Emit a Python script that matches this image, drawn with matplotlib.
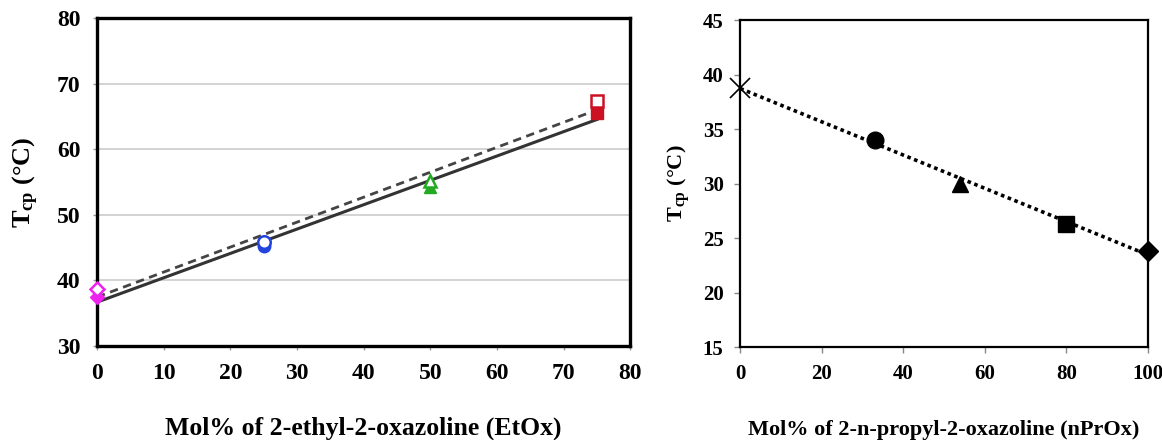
import numpy as np
import matplotlib.pyplot as plt

plt.rcParams["font.family"] = ["Liberation Serif", "DejaVu Serif"]
plt.rcParams["font.weight"] = "bold"
plt.rcParams["mathtext.fontset"] = "custom"
plt.rcParams["mathtext.rm"] = "Liberation Serif:bold"
plt.rcParams["mathtext.it"] = "Liberation Serif:bold"
plt.rcParams["mathtext.bf"] = "Liberation Serif:bold"

# left panel: EtOx copolymers (open = heating, filled = cooling)
etox_x = [0, 25, 50, 75]
etox_open = [38.7, 45.8, 55.2, 67.3]
etox_filled = [37.5, 45.3, 54.2, 65.5]
etox_colors = ["#ee22ee", "#2244dd", "#22aa22", "#cc1122"]
etox_markers = ["D", "o", "^", "s"]

# right panel: nPrOx copolymers
nprox_x = [0, 33, 54, 80, 100]
nprox_y = [38.8, 34.0, 30.0, 26.3, 23.8]
nprox_markers = ["x", "o", "^", "s", "D"]

fig = plt.figure(figsize=(11.62, 4.4), dpi=100)
ax1 = fig.add_axes([0.0835, 0.2136, 0.459, 0.745])
ax2 = fig.add_axes([0.637, 0.211, 0.351, 0.743])

# --- left
for y in [40, 50, 60, 70]:
    ax1.axhline(y, color="#cccccc", lw=1.2, zorder=0)
xx = np.array([0, 75])
p_f = np.polyfit(etox_x, etox_filled, 1)
p_o = np.polyfit(etox_x, etox_open, 1)
ax1.plot(xx, np.polyval(p_f, xx), color="#333333", lw=2.2, zorder=2)
ax1.plot(xx, np.polyval(p_o, xx), color="#444444", lw=2.0, ls=(0, (3, 2)), zorder=2)
for x, yo, yf, c, m in zip(etox_x, etox_open, etox_filled, etox_colors, etox_markers):
    ms = 7 if m == "D" else 9
    ax1.plot(x, yf, marker=m, color=c, ms=ms, ls="none", zorder=3, clip_on=False)
    ax1.plot(x, yo, marker=m, mfc="white", mec=c, mew=1.8, ms=ms, ls="none", zorder=3, clip_on=False)
ax1.set_xlim(0, 80)
ax1.set_ylim(30, 80)
ax1.set_xticks(range(0, 81, 10))
ax1.set_yticks(range(30, 81, 10))
for s in ax1.spines.values():
    s.set_linewidth(2.4)
ax1.tick_params(labelsize=17, length=3, width=1, pad=9, color="#999999")
ax1.set_xlabel("Mol% of 2-ethyl-2-oxazoline (EtOx)", fontsize=18.5, fontweight="bold", labelpad=24)
ax1.set_ylabel(r"$\mathregular{T_{cp}}$ (°C)", fontsize=19, fontweight="bold", labelpad=11)

# --- right
xr = np.array([0, 100])
p_r = np.polyfit(nprox_x, nprox_y, 1)
ax2.plot(xr, np.polyval(p_r, xr), color="black", lw=2.6, ls=(0, (1, 1)), zorder=2)
for x, y, m in zip(nprox_x, nprox_y, nprox_markers):
    if m == "x":
        ax2.plot(x, y, marker=m, color="black", ms=14, mew=1.2, ls="none", zorder=3, clip_on=False)
    else:
        ms = 10 if m == "D" else 12
        ax2.plot(x, y, marker=m, color="black", ms=ms, ls="none", zorder=3, clip_on=False)
ax2.set_xlim(0, 100)
ax2.set_ylim(15, 45)
ax2.set_xticks(range(0, 101, 20))
ax2.set_yticks(range(15, 46, 5))
for s in ax2.spines.values():
    s.set_linewidth(1.6)
ax2.tick_params(labelsize=15, length=4, width=1, pad=8, color="#888888")
ax2.set_xlabel("Mol% of 2-n-propyl-2-oxazoline (nPrOx)", fontsize=16, fontweight="bold", labelpad=26)
ax2.set_ylabel(r"$\mathregular{T_{cp}}$ (°C)", fontsize=16, fontweight="bold", labelpad=8)

fig.savefig("out.png", dpi=100)
